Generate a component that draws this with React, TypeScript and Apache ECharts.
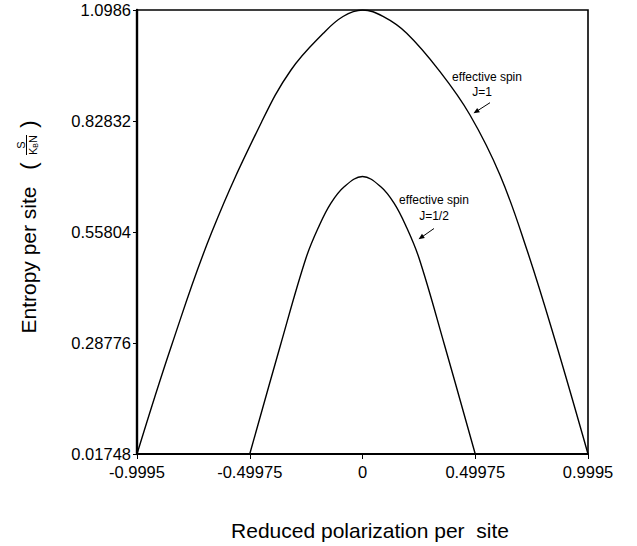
import React, { useEffect, useRef } from "react";
import * as echarts from "echarts";

// Tick values (axis labels)
const xTicks = [-0.9995, -0.49975, 0, 0.49975, 0.9995];
const yTicks = [0.01748, 0.28776, 0.55804, 0.82832, 1.0986];

// Effective spin J=1 curve
const spin1X = [-0.9995, -0.8456, -0.6683, -0.4467, -0.3169, -0.1737, -0.0864, 0, 0.0909, 0.1959, 0.3435, 0.4764, 0.6094, 0.7291, 0.8532, 0.9995];
const spin1Y = [0.01748, 0.2829, 0.5573, 0.8266, 0.9525, 1.0419, 1.0828, 1.0986, 1.0828, 1.0419, 0.9484, 0.8429, 0.6968, 0.5142, 0.295, 0.01748];

// Effective spin J=1/2 curve
const spinHalfX = [-0.49975, -0.3634, -0.2504, -0.1906, -0.1405, -0.0811, 0, 0.0811, 0.1405, 0.1906, 0.2504, 0.3634, 0.49975];
const spinHalfY = [0.01748, 0.2829, 0.4947, 0.5751, 0.6279, 0.6683, 0.6931, 0.6683, 0.6279, 0.5751, 0.4947, 0.2829, 0.01748];

const FONT = "'Liberation Sans', Arial, Helvetica, sans-serif";

const fmt = (v: number) => String(Number(Number(v).toFixed(5)));

export default function App() {
  const ref = useRef<HTMLDivElement>(null);
  useEffect(() => {
    if (!ref.current) return;
    const chart = echarts.init(ref.current, null, { renderer: "svg" });
    const pairs = (xs: number[], ys: number[]) => xs.map((x, i) => [x, ys[i]]);
    const rot = Math.PI / 2;
    chart.setOption({
      animation: false,
      backgroundColor: "#ffffff",
      grid: {
        left: 137,
        right: 49,
        top: 10,
        bottom: 92,
        show: true,
        borderColor: "#000",
        borderWidth: 1.6,
        backgroundColor: "transparent",
      },
      xAxis: {
        type: "value",
        min: xTicks[0],
        max: xTicks[xTicks.length - 1],
        splitLine: { show: false },
        axisLine: { show: true, onZero: false, lineStyle: { color: "#000", width: 2 } },
        axisTick: { show: true, length: 5, customValues: xTicks, lineStyle: { color: "#000", width: 1 } },
        axisLabel: {
          customValues: xTicks,
          formatter: (v: number) => fmt(v),
          color: "#000",
          fontSize: 16.5,
          fontFamily: FONT,
          margin: 9,
        },
      },
      yAxis: {
        type: "value",
        min: yTicks[0],
        max: yTicks[yTicks.length - 1],
        splitLine: { show: false },
        axisLine: { show: true, onZero: false, lineStyle: { color: "#000", width: 2.4 } },
        axisTick: { show: true, length: 4, customValues: yTicks, lineStyle: { color: "#000", width: 1 } },
        axisLabel: {
          customValues: yTicks,
          formatter: (v: number) => fmt(v),
          color: "#000",
          fontSize: 16.5,
          fontFamily: FONT,
          margin: 6,
        },
      },
      series: [
        {
          name: "effective spin J=1",
          type: "line",
          data: pairs(spin1X, spin1Y),
          smooth: 0.4,
          showSymbol: false,
          symbol: "none",
          lineStyle: { color: "#000", width: 1.4 },
        },
        {
          name: "effective spin J=1/2",
          type: "line",
          data: pairs(spinHalfX, spinHalfY),
          smooth: 0.38,
          showSymbol: false,
          symbol: "none",
          lineStyle: { color: "#000", width: 1.4 },
        },
      ],
      graphic: [
        {
          type: "text",
          x: 370,
          y: 530,
          style: { text: "Reduced polarization per  site", font: `21px ${FONT}`, fill: "#000", align: "center", verticalAlign: "middle" },
        },
        {
          type: "text",
          x: 28,
          y: 260,
          rotation: rot,
          style: { text: "Entropy per site", font: `21px ${FONT}`, fill: "#000", align: "center", verticalAlign: "middle" },
        },
        {
          type: "text",
          x: 28,
          y: 166,
          rotation: rot,
          style: { text: "(", font: `22px ${FONT}`, fill: "#000", align: "center", verticalAlign: "middle" },
        },
        {
          type: "text",
          x: 28,
          y: 124,
          rotation: rot,
          style: { text: ")", font: `22px ${FONT}`, fill: "#000", align: "center", verticalAlign: "middle" },
        },
        {
          type: "text",
          x: 21,
          y: 145,
          rotation: rot,
          style: { text: "S", font: `11px ${FONT}`, fill: "#000", align: "center", verticalAlign: "middle" },
        },
        {
          type: "line",
          shape: { x1: 26.5, y1: 135, x2: 26.5, y2: 155 },
          style: { stroke: "#000", lineWidth: 1 },
        },
        {
          type: "text",
          x: 33,
          y: 145,
          rotation: rot,
          style: {
            text: "{a|K}{b|B}{a|N}",
            fill: "#000",
            align: "center",
            verticalAlign: "middle",
            rich: {
              a: { fontSize: 11, fontFamily: FONT, fill: "#000" },
              b: { fontSize: 7, fontFamily: FONT, fill: "#000", verticalAlign: "bottom", padding: [4, 0, 0, 0] },
            },
          },
        },
        {
          type: "text",
          x: 487,
          y: 77,
          style: { text: "effective spin", font: `12px ${FONT}`, fill: "#000", align: "center", verticalAlign: "middle" },
        },
        {
          type: "text",
          x: 482,
          y: 92,
          style: { text: "J=1", font: `12px ${FONT}`, fill: "#000", align: "center", verticalAlign: "middle" },
        },
        {
          type: "line",
          shape: { x1: 490, y1: 102.7, x2: 476, y2: 111.7 },
          style: { stroke: "#000", lineWidth: 1 },
        },
        {
          type: "polygon",
          shape: { points: [[473.5, 113.3], [479.9, 112.2], [477.2, 108.0]] },
          style: { fill: "#000" },
        },
        {
          type: "text",
          x: 434,
          y: 200,
          style: { text: "effective spin", font: `12px ${FONT}`, fill: "#000", align: "center", verticalAlign: "middle" },
        },
        {
          type: "text",
          x: 434,
          y: 216,
          style: { text: "J=1/2", font: `12px ${FONT}`, fill: "#000", align: "center", verticalAlign: "middle" },
        },
        {
          type: "line",
          shape: { x1: 434, y1: 228.5, x2: 421, y2: 237.6 },
          style: { stroke: "#000", lineWidth: 1 },
        },
        {
          type: "polygon",
          shape: { points: [[418.5, 239.3], [424.8, 237.95], [422.0, 233.85]] },
          style: { fill: "#000" },
        },
      ],
    });
    return () => chart.dispose();
  }, []);
  return (
    <div
      ref={ref}
      style={{ position: "fixed", left: 0, top: 0, width: 637, height: 546, background: "#fff" }}
    />
  );
}
